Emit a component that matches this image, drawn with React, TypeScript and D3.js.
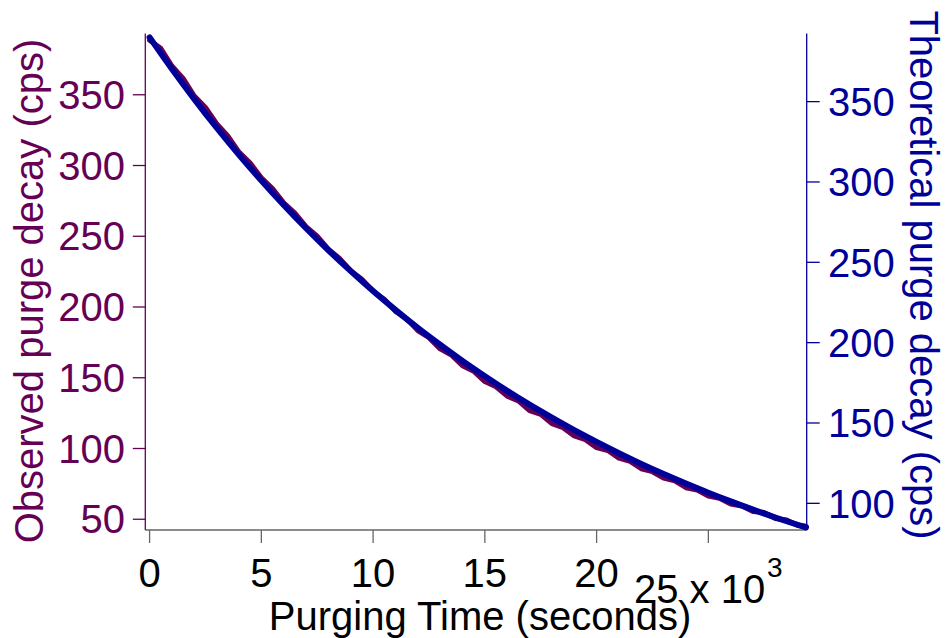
import React from "react";
import * as d3 from "d3";

// Purging time in seconds
const obsTime = [
  0, 500, 1000, 1500, 2000, 2500, 3000, 3500, 4000, 4500, 5000, 5500, 6000, 6500, 7000, 7500,
  8000, 8500, 9000, 9500, 10000, 10500, 11000, 11500, 12000, 12500, 13000, 13500, 14000, 14500,
  15000, 15500, 16000, 16500, 17000, 17500, 18000, 18500, 19000, 19500, 20000, 20500, 21000,
  21500, 22000, 22500, 23000, 23500, 24000, 24500, 25000, 25500, 26000, 26500, 27000, 27500,
  28000, 28500, 29000, 29370,
];
// Observed purge decay (cps), left axis
const obsValues = [
  388.5, 382.8, 370.3, 361.6, 349.1, 341.0, 329.5, 320.9, 309.5, 301.8, 291.4, 283.7, 273.7,
  266.4, 256.8, 250.0, 240.9, 234.4, 225.6, 219.6, 211.2, 205.5, 196.9, 191.6, 183.3, 178.3,
  170.4, 166.1, 158.5, 154.6, 147.3, 143.6, 137.0, 133.6, 126.8, 124.2, 117.6, 114.7, 108.9,
  106.2, 100.6, 98.6, 93.2, 90.9, 85.7, 83.6, 79.1, 77.1, 72.3, 70.6, 66.4, 64.8, 60.8, 59.4,
  55.5, 54.7, 50.5, 49.4, 45.8, 45.0,
];

const theoTime = [
  0, 1000, 2000, 3000, 4000, 5000, 6000, 7000, 8000, 9000, 10000, 11000, 12000, 13000, 14000,
  15000, 16000, 17000, 18000, 19000, 20000, 21000, 22000, 23000, 24000, 25000, 26000, 27000,
  28000, 29000, 29370,
];
// Theoretical purge decay (cps), right axis
const theoValues = [
  390.0, 370.3, 351.6, 333.8, 316.9, 300.9, 285.7, 271.2, 257.5, 244.5, 232.1, 220.4, 209.2,
  198.7, 188.6, 179.1, 170.0, 161.4, 153.3, 145.5, 138.2, 131.2, 124.5, 118.2, 112.3, 106.6,
  101.2, 96.1, 91.2, 86.6, 85.0,
];

const xTicks = [0, 5000, 10000, 15000, 20000];
const xTickLabels = ["0", "5", "10", "15", "20"];
const lastXTick = 25000;
const leftTicks = [50, 100, 150, 200, 250, 300, 350];
const rightTicks = [100, 150, 200, 250, 300, 350];

const PURPLE = "#660055";
const BLUE = "#000099";
const GRAY = "#666666";
const FONT = "'Liberation Sans', Arial, Helvetica, sans-serif";

export default function App() {
  const W = 945;
  const H = 638;
  const left = 145.3;
  const right = 806.7;
  const top = 33.5;
  const bottom = 530;

  const x = d3.scaleLinear().domain([-192, 29400]).range([left, right]);
  const yL = d3.scaleLinear().domain([42.4, 393.3]).range([bottom, top]);
  const yR = d3.scaleLinear().domain([83.4, 392.4]).range([bottom, top]);

  const obsLine = d3
    .line<number>()
    .x((_, i) => x(obsTime[i]))
    .y((d) => yL(d))
    .curve(d3.curveLinear)(obsValues) as string;

  const theoLine = d3
    .line<number>()
    .x((_, i) => x(theoTime[i]))
    .y((d) => yR(d))
    .curve(d3.curveMonotoneX)(theoValues) as string;

  const fs = 40;

  return (
    <svg
      width={W}
      height={H}
      style={{ position: "absolute", left: 0, top: 0, background: "#fff" }}
      fontFamily={FONT}
    >
      <rect x={0} y={0} width={W} height={H} fill="#fff" />

      {/* bottom axis */}
      <line x1={left} x2={right} y1={bottom} y2={bottom} stroke={GRAY} strokeWidth={1.3} />
      {[...xTicks, lastXTick].map((t) => (
        <line key={t} x1={x(t)} x2={x(t)} y1={bottom} y2={bottom + 13} stroke={GRAY} strokeWidth={1.3} />
      ))}
      {xTicks.map((t, i) => (
        <text key={t} x={x(t)} y={587} textAnchor="middle" fontSize={fs} fill="#000">
          {xTickLabels[i]}
        </text>
      ))}
      <text x={634} y={603} fontSize={fs} fill="#000">
        25 x 10
      </text>
      <text x={767} y={577} fontSize={28} fill="#000">
        3
      </text>
      <text x={480} y={630} textAnchor="middle" fontSize={fs} fill="#000">
        Purging Time (seconds)
      </text>

      {/* left axis */}
      <line x1={left} x2={left} y1={top} y2={bottom} stroke={PURPLE} strokeWidth={1.3} />
      {leftTicks.map((t) => (
        <g key={t}>
          <line x1={left - 12.5} x2={left} y1={yL(t)} y2={yL(t)} stroke={PURPLE} strokeWidth={1.3} />
          <text x={125} y={yL(t)} dy="0.355em" textAnchor="end" fontSize={fs} fill={PURPLE}>
            {t}
          </text>
        </g>
      ))}
      <text
        transform={`translate(43,291) rotate(-90)`}
        textAnchor="middle"
        fontSize={fs}
        fill={PURPLE}
      >
        Observed purge decay (cps)
      </text>

      {/* right axis */}
      <line x1={right} x2={right} y1={top} y2={bottom} stroke={BLUE} strokeWidth={1.3} />
      {rightTicks.map((t) => (
        <g key={t}>
          <line x1={right} x2={right + 13} y1={yR(t)} y2={yR(t)} stroke={BLUE} strokeWidth={1.3} />
          <text x={828} y={yR(t)} dy="0.355em" textAnchor="start" fontSize={fs} fill={BLUE}>
            {t}
          </text>
        </g>
      ))}
      <text
        transform={`translate(910,275) rotate(90)`}
        textAnchor="middle"
        fontSize={fs}
        fill={BLUE}
      >
        Theoretical purge decay (cps)
      </text>

      {/* data */}
      <path d={obsLine} fill="none" stroke={PURPLE} strokeWidth={5} strokeLinejoin="round" strokeLinecap="round" />
      <path d={theoLine} fill="none" stroke={BLUE} strokeWidth={6} strokeLinejoin="round" strokeLinecap="round" />
    </svg>
  );
}
